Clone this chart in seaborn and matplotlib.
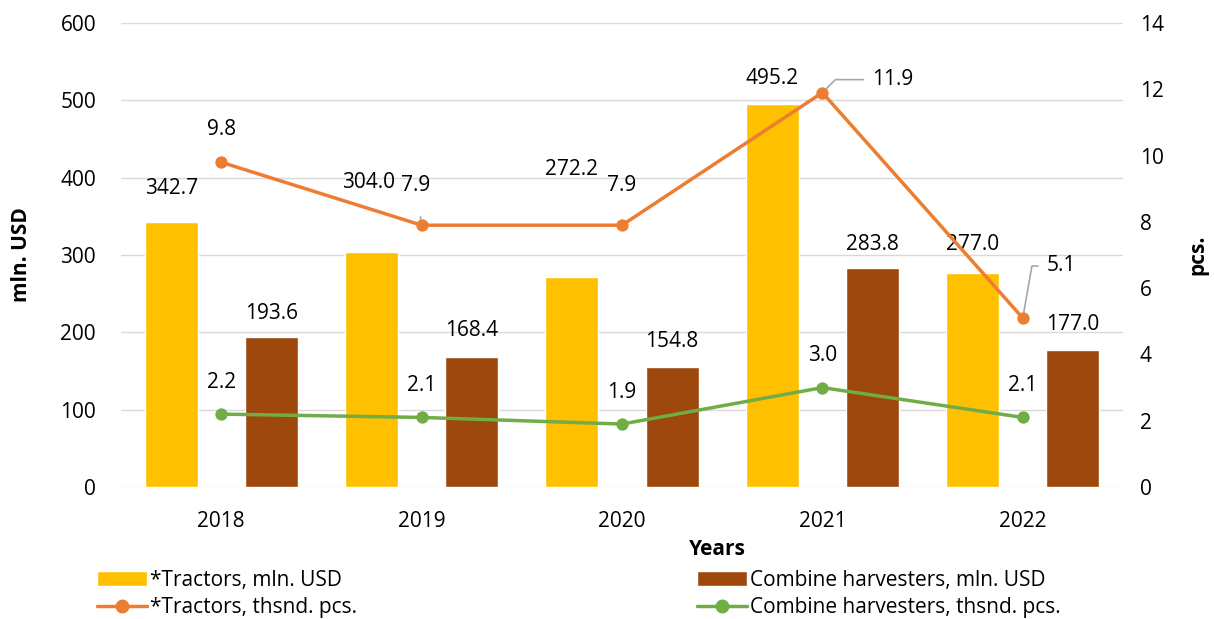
import numpy as np
import pandas as pd
import matplotlib
matplotlib.use("Agg")
import matplotlib.pyplot as plt
import seaborn as sns
from matplotlib.patches import Patch
from matplotlib.lines import Line2D

years = ["2018", "2019", "2020", "2021", "2022"]
tractors_usd = [342.7, 304.0, 272.2, 495.2, 277.0]
combines_usd = [193.6, 168.4, 154.8, 283.8, 177.0]
tractors_pcs = [9.8, 7.9, 7.9, 11.9, 5.1]
combines_pcs = [2.2, 2.1, 1.9, 3.0, 2.1]

lab_t_usd = "*Tractors, mln. USD"
lab_c_usd = "Combine harvesters, mln. USD"
lab_t_pcs = "*Tractors, thsnd. pcs."
lab_c_pcs = "Combine harvesters, thsnd. pcs."

c_yellow = "#FFC000"
c_brown = "#9E480E"
c_orange = "#ED7D31"
c_green = "#70AD47"

FS = 15

sns.set_theme(style="white")
plt.rcParams["font.family"] = ["Open Sans", "DejaVu Sans"]
plt.rcParams["text.color"] = "black"
plt.rcParams["xtick.color"] = "black"
plt.rcParams["ytick.color"] = "black"
plt.rcParams["axes.labelcolor"] = "black"

fig = plt.figure(figsize=(12.14, 6.19), dpi=100)
ax = fig.add_axes([0.0997, 0.2132, 0.8253, 0.7496])

df_bar = pd.DataFrame({
    "year": years * 2,
    "value": tractors_usd + combines_usd,
    "series": [lab_t_usd] * 5 + [lab_c_usd] * 5,
})
sns.barplot(data=df_bar, x="year", y="value", hue="series", ax=ax,
            palette=[c_yellow, c_brown], width=1.0, gap=0.47,
            legend=False, saturation=1, zorder=2)

ax.set_ylim(0, 600)
ax.set_yticks(np.arange(0, 601, 100))
ax.grid(axis="y", color="#D9D9D9", linewidth=1, zorder=0)
ax.set_axisbelow(True)
for s in ax.spines.values():
    s.set_visible(False)
ax.tick_params(axis="both", labelsize=FS, length=0, labelcolor="black")
ax.tick_params(axis="x", pad=17)
ax.tick_params(axis="y", pad=18)
ax.set_xlabel("")
ax.set_ylabel("")

ax2 = ax.twinx()
df_line = pd.DataFrame({
    "year": years * 2,
    "value": tractors_pcs + combines_pcs,
    "series": [lab_t_pcs] * 5 + [lab_c_pcs] * 5,
})
sns.pointplot(data=df_line, x="year", y="value", hue="series", ax=ax2,
              palette=[c_orange, c_green], markers="o", markersize=7,
              linewidth=2.5, legend=False, dodge=False, errorbar=None)
ax2.set_ylim(0, 14)
ax2.set_yticks(np.arange(0, 15, 2))
for s in ax2.spines.values():
    s.set_visible(False)
ax2.tick_params(axis="y", labelsize=FS, length=0, pad=12, labelcolor="black")
ax2.set_ylabel("")
ax2.set_xlabel("")
ax2.grid(False)
ax.set_xlim(-0.5, 4.5)
ax2.set_xlim(-0.5, 4.5)

# bar labels (pixel offsets from bar tops)
bar_off_t = [(0, 34), (-3, 69), (0, 107), (0, 26), (0, 28)]
bar_off_c = [24, 26, 26, 23, 26]
for i in range(5):
    ax.annotate(f"{tractors_usd[i]:.1f}", (i - 0.25, tractors_usd[i]),
                xytext=bar_off_t[i], textcoords="offset pixels",
                ha="center", va="center", fontsize=FS, zorder=5)
    ax.annotate(f"{combines_usd[i]:.1f}", (i + 0.25, combines_usd[i]),
                xytext=(0, bar_off_c[i]), textcoords="offset pixels",
                ha="center", va="center", fontsize=FS, zorder=5)

# line labels
t_offsets = [(0, 33), (-6, 40), (0, 40), (50, 13), (24, 52)]
t_leader = [None, "straight", None, "angle,angleA=0,angleB=45,rad=0",
            "angle,angleA=0,angleB=80,rad=0"]
for i in range(5):
    dx, dy = t_offsets[i]
    ha = "center"
    ap = None
    if t_leader[i] == "straight":
        ap = dict(arrowstyle="-", color="#A6A6A6", lw=1.2, shrinkA=13, shrinkB=4)
    elif t_leader[i] is not None:
        ha = "left"
        ap = dict(arrowstyle="-", color="#A6A6A6", lw=1.2, shrinkA=4, shrinkB=4,
                  connectionstyle=t_leader[i])
    ax2.annotate(f"{tractors_pcs[i]:.1f}", (i, tractors_pcs[i]),
                 xytext=(dx, dy), textcoords="offset pixels",
                 ha=ha, va="center", fontsize=FS, arrowprops=ap, zorder=6)
for i in range(5):
    ax2.annotate(f"{combines_pcs[i]:.1f}", (i, combines_pcs[i]),
                 xytext=(0, 32), textcoords="offset pixels",
                 ha="center", va="center", fontsize=FS, zorder=6)

fig.text(0.0175, 0.588, "mln. USD", rotation=90, ha="center", va="center",
         fontsize=FS, fontweight="bold")
fig.text(0.987, 0.588, "pcs.", rotation=90, ha="center", va="center",
         fontsize=FS, fontweight="bold")
fig.text(0.591, 0.113, "Years", ha="center", va="center",
         fontsize=FS, fontweight="bold")

h_left = [
    Patch(facecolor=c_yellow, label=lab_t_usd),
    Line2D([0], [0], color=c_orange, lw=2.5, marker="o", markersize=9, label=lab_t_pcs),
]
h_right = [
    Patch(facecolor=c_brown, label=lab_c_usd),
    Line2D([0], [0], color=c_green, lw=2.5, marker="o", markersize=9, label=lab_c_pcs),
]
leg_kw = dict(loc="upper left", frameon=False, fontsize=FS, handlelength=2.4,
              handleheight=0.75, handletextpad=0.15, labelspacing=0.3,
              borderaxespad=0, borderpad=0)
fig.legend(handles=h_left, bbox_to_anchor=(97 / 1214, 1 - 570 / 619), **leg_kw)
fig.legend(handles=h_right, bbox_to_anchor=(697 / 1214, 1 - 570 / 619), **leg_kw)

fig.savefig("out.png", dpi=100)
